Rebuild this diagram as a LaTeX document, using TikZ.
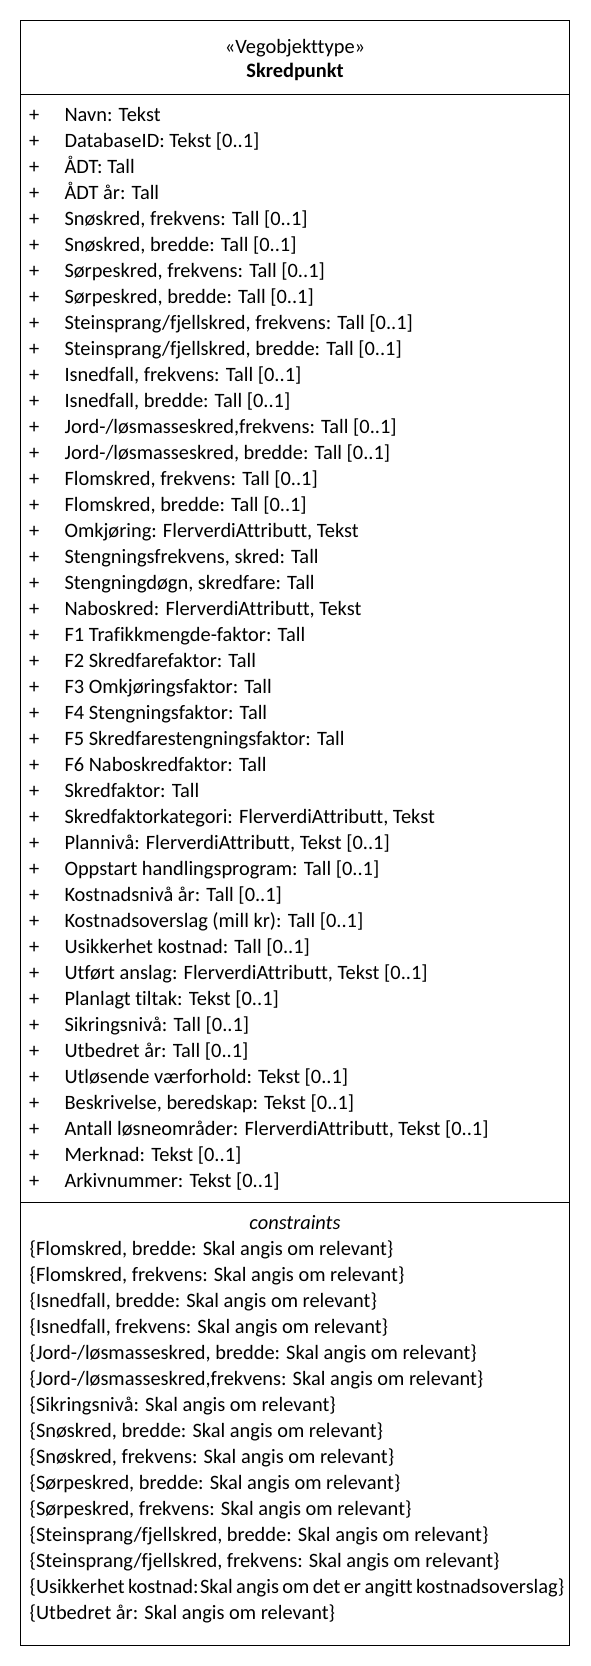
\documentclass[tikz,border=0pt]{standalone}
\usepackage{fontspec}
\setmainfont{Carlito}[Ligatures=NoCommon]
\begin{document}
\begin{tikzpicture}[x=1pt,y=-1pt,
  txt/.style={inner sep=0pt, anchor=base west, font=\fontsize{20.4}{24}\selectfont},
  ctr/.style={inner sep=0pt, anchor=base, font=\fontsize{20.4}{24}\selectfont},
  frame/.style={draw=black, line width=1.4pt}]
\useasboundingbox (0,0) rectangle (590,1666);
\draw[frame] (20.7,20.7) rectangle (569.3,1645.3);
\draw[frame] (20.7,94.3) -- (569.3,94.3);
\draw[frame] (20.7,1202.3) -- (569.3,1202.3);
\node[ctr] (stereo) at (295,53.5) {«Vegobjekttype»};
\node[ctr,font=\fontsize{20.4}{24}\selectfont\bfseries] (name) at (295,77.5) {Skredpunkt};
\foreach \t [count=\i] in {{Navn: Tekst},{DatabaseID: Tekst [0..1]},{ÅDT: Tall},{ÅDT år: Tall},
 {Snøskred, frekvens: Tall [0..1]},{Snøskred, bredde: Tall [0..1]},
 {Sørpeskred, frekvens: Tall [0..1]},{Sørpeskred, bredde: Tall [0..1]},
 {Steinsprang/fjellskred, frekvens: Tall [0..1]},{Steinsprang/fjellskred, bredde: Tall [0..1]},
 {Isnedfall, frekvens: Tall [0..1]},{Isnedfall, bredde: Tall [0..1]},
 {Jord-/løsmasseskred,frekvens: Tall [0..1]},{Jord-/løsmasseskred, bredde: Tall [0..1]},
 {Flomskred, frekvens: Tall [0..1]},{Flomskred, bredde: Tall [0..1]},
 {Omkjøring: FlerverdiAttributt, Tekst},{Stengningsfrekvens, skred: Tall},
 {Stengningdøgn, skredfare: Tall},{Naboskred: FlerverdiAttributt, Tekst},
 {F1 Trafikkmengde-faktor: Tall},{F2 Skredfarefaktor: Tall},{F3 Omkjøringsfaktor: Tall},
 {F4 Stengningsfaktor: Tall},{F5 Skredfarestengningsfaktor: Tall},{F6 Naboskredfaktor: Tall},
 {Skredfaktor: Tall},{Skredfaktorkategori: FlerverdiAttributt, Tekst},
 {Plannivå: FlerverdiAttributt, Tekst [0..1]},{Oppstart handlingsprogram: Tall [0..1]},
 {Kostnadsnivå år: Tall [0..1]},{Kostnadsoverslag (mill kr): Tall [0..1]},
 {Usikkerhet kostnad: Tall [0..1]},{Utført anslag: FlerverdiAttributt, Tekst [0..1]},
 {Planlagt tiltak: Tekst [0..1]},{Sikringsnivå: Tall [0..1]},{Utbedret år: Tall [0..1]},
 {Utløsende værforhold: Tekst [0..1]},{Beskrivelse, beredskap: Tekst [0..1]},
 {Antall løsneområder: FlerverdiAttributt, Tekst [0..1]},{Merknad: Tekst [0..1]},
 {Arkivnummer: Tekst [0..1]}} {
  \node[ctr] (p\i) at (34.3,{115+26*(\i-1)+6.5}) {+};
  \node[txt] (a\i) at (64.3,{115+26*(\i-1)+6.5}) {\t};
}
\node[ctr,font=\fontsize{20.4}{24}\selectfont\itshape] (cons) at (295,1229.5) {constraints};
\foreach \t [count=\i] in {{Flomskred, bredde: Skal angis om relevant},
 {Flomskred, frekvens: Skal angis om relevant},{Isnedfall, bredde: Skal angis om relevant},
 {Isnedfall, frekvens: Skal angis om relevant},{Jord-/løsmasseskred, bredde: Skal angis om relevant},
 {Jord-/løsmasseskred,frekvens: Skal angis om relevant},{Sikringsnivå: Skal angis om relevant},
 {Snøskred, bredde: Skal angis om relevant},{Snøskred, frekvens: Skal angis om relevant},
 {Sørpeskred, bredde: Skal angis om relevant},{Sørpeskred, frekvens: Skal angis om relevant},
 {Steinsprang/fjellskred, bredde: Skal angis om relevant},
 {Steinsprang/fjellskred, frekvens: Skal angis om relevant},
 {{\spaceskip=3.4pt\relax Usikkerhet kostnad:\kern1.5pt Skal angis om det er angitt kostnadsoverslag}},
 {Utbedret år: Skal angis om relevant}} {
  \node[txt] (c\i) at (29.5,{1249+26*(\i-1)+6.5}) {\{\t\}};
}
\end{tikzpicture}
\end{document}
